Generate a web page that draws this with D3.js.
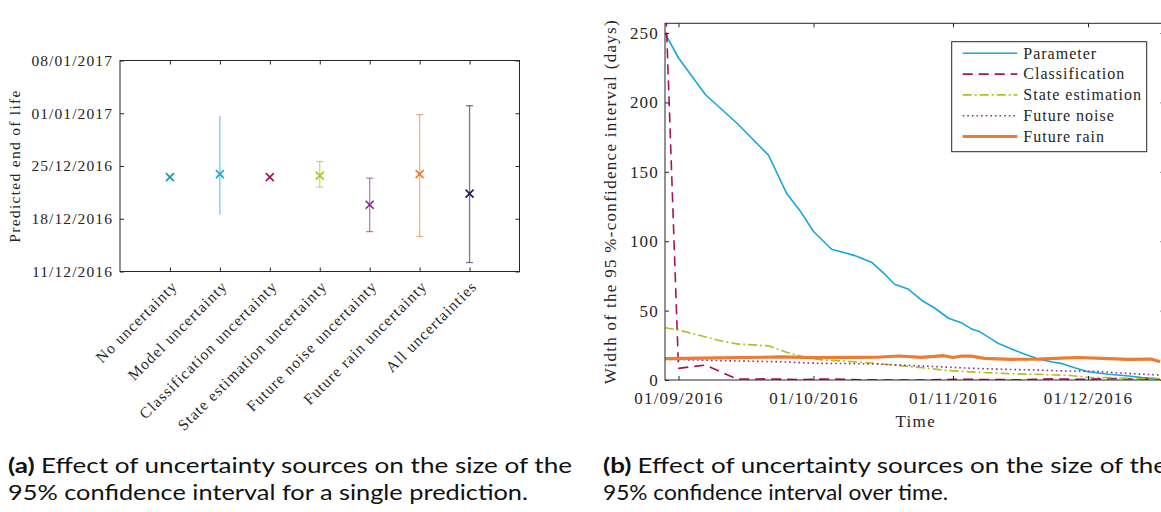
<!DOCTYPE html>
<html>
<head>
<meta charset="utf-8">
<script src="https://cdn.jsdelivr.net/npm/d3@7"></script>
<style>
  body { margin: 0; background: #fff; }
  svg { display: block; }
  .serif { font-family: "Liberation Serif", "Times New Roman", serif; fill: #262626; }
  .caption { font-family: "Lato", "Noto Sans", sans-serif; fill: #111; font-size: 21px; }
</style>
</head>
<body>
<svg id="fig" width="1161" height="512"></svg>
<script>
const parseDay = d3.utcParse("%Y-%m-%d");
const parseTime = d3.utcParse("%Y-%m-%d %H:%M");

// ---- Panel (a): predicted end of life per uncertainty source ----
const sourceLabels = [
  "No uncertainty", "Model uncertainty", "Classification uncertainty",
  "State estimation uncertainty", "Future noise uncertainty",
  "Future rain uncertainty", "All uncertainties"
];
const eolPredicted = [
  "2016-12-23 12:30", "2016-12-23 22:00", "2016-12-23 12:30", "2016-12-23 17:30",
  "2016-12-19 20:30", "2016-12-23 22:00", "2016-12-21 08:10"
];
const eolLower = [
  null, "2016-12-18 12:30", null, "2016-12-22 04:30",
  "2016-12-16 07:10", "2016-12-15 15:20", "2016-12-12 04:30"
];
const eolUpper = [
  null, "2016-12-31 15:30", null, "2016-12-25 14:10",
  "2016-12-23 09:20", "2016-12-31 19:40", "2017-01-02 00:00"
];
const eolTicks = ["2016-12-11", "2016-12-18", "2016-12-25", "2017-01-01", "2017-01-08"];

// ---- Panel (b): width of the 95 % confidence interval over time ----
const timeTicks = ["2016-09-01", "2016-10-01", "2016-11-01", "2016-12-01"];
const widthTicks = [0, 50, 100, 150, 200, 250];
const seriesNames = ["Parameter", "Classification", "State estimation", "Future noise", "Future rain"];

const parameterDates = [
  "2016-08-29", "2016-09-01", "2016-09-07", "2016-09-14", "2016-09-21", "2016-09-25",
  "2016-09-28", "2016-10-01", "2016-10-05", "2016-10-10", "2016-10-14", "2016-10-17",
  "2016-10-19", "2016-10-22", "2016-10-25", "2016-10-28", "2016-10-31", "2016-11-03",
  "2016-11-05", "2016-11-07", "2016-11-10", "2016-11-11", "2016-11-14", "2016-11-17",
  "2016-11-20", "2016-11-23", "2016-11-25", "2016-11-28", "2016-12-01", "2016-12-05",
  "2016-12-10", "2016-12-13", "2016-12-17"
];
const parameterWidth = [
  250, 232, 205.5, 185, 162, 134.6,
  122, 107, 94.2, 89.8, 84.6, 75.7,
  69, 65.6, 57.5, 51.7, 44.5, 41,
  37, 34.7, 28.5, 26.5, 22.3, 18.6,
  15.2, 13, 12, 8.9, 6, 4.3,
  2.9, 1.7, 0.9
];

const classificationDates = [
  "2016-08-29", "2016-09-01", "2016-09-07", "2016-09-14", "2016-09-21", "2016-09-28",
  "2016-10-05", "2016-10-12", "2016-10-19", "2016-10-26", "2016-11-02", "2016-11-09",
  "2016-11-16", "2016-11-23", "2016-11-30", "2016-12-07", "2016-12-14", "2016-12-17"
];
const classificationWidth = [
  285, 8.4, 10.8, 0.7, 0.8, 0.3,
  0.8, 0.1, 0, 0, 0.6, 0.3,
  0.2, 0.8, 0.5, 1, 0.6, 0.5
];

const stateDates = [
  "2016-08-29", "2016-09-01", "2016-09-10", "2016-09-14", "2016-09-21", "2016-09-25",
  "2016-09-29", "2016-10-03", "2016-10-10", "2016-10-14", "2016-10-18", "2016-10-24",
  "2016-10-31", "2016-11-07", "2016-11-14", "2016-11-21", "2016-11-27", "2016-12-01",
  "2016-12-06", "2016-12-12", "2016-12-17"
];
const stateWidth = [
  37.7, 36, 28.5, 26, 24.6, 20,
  16.3, 14.5, 13.2, 12.2, 11, 9.2,
  6.8, 5.5, 4.5, 4, 3.2, 1.9,
  1.7, 1, 0.8
];

const noiseDates = [
  "2016-08-29", "2016-09-05", "2016-09-14", "2016-09-23", "2016-10-02", "2016-10-10",
  "2016-10-15", "2016-10-20", "2016-10-27", "2016-11-04", "2016-11-11", "2016-11-19",
  "2016-11-26", "2016-12-02", "2016-12-06", "2016-12-12", "2016-12-17"
];
const noiseWidth = [
  14.9, 14.4, 13.7, 13.2, 12, 11.8,
  11.5, 10.8, 9.8, 8.6, 7.8, 7.2,
  6.5, 6.3, 5.5, 4.3, 3.6
];

const rainDates = [
  "2016-08-29", "2016-09-10", "2016-09-24", "2016-10-01", "2016-10-10", "2016-10-15",
  "2016-10-20", "2016-10-25", "2016-10-30", "2016-11-01", "2016-11-03", "2016-11-05",
  "2016-11-08", "2016-11-14", "2016-11-20", "2016-11-25", "2016-11-29", "2016-12-04",
  "2016-12-10", "2016-12-15", "2016-12-17"
];
const rainWidth = [
  15.4, 15.9, 16.6, 16.1, 16.3, 16.4,
  17.3, 16.3, 17.5, 16.2, 17.3, 17.2,
  15.6, 14.9, 15.1, 15.8, 16.2, 15.6,
  14.9, 15.1, 13.2
];

// ---- styling ----
const sourceColours = ["#1592b4", "#1aa8dc", "#a60f5c", "#a9c41e", "#86298c", "#ee7b2f", "#1c1c5a"];
const capHalfWidth = [0, 0, 0, 3.5, 3.5, 3.5, 3.5];
const seriesColours = ["#16a7db", "#a60f5c", "#a9c41e", "#8a2f8c", "#ee7b2f"];
const seriesStroke = [1.6, 1.6, 1.6, 1.6, 3.2];
const seriesDash = [null, "10,6", "9,3,2,3", "1.6,3", null];
const axisColour = "#262626";

const svg = d3.select("#fig");

function styleAxis(g, fontSize, spacing) {
  g.select(".domain").remove();
  g.selectAll(".tick line").attr("stroke", axisColour).attr("stroke-width", 1);
  g.selectAll("text")
    .attr("class", "serif")
    .attr("fill", axisColour)
    .style("font-size", fontSize + "px")
    .style("letter-spacing", spacing + "px");
}

// ================= Panel (a) =================
{
  const box = { left: 120, right: 519.5, top: 60.5, bottom: 271.5 };
  const x = d3.scaleLinear().domain([0, sourceLabels.length + 1]).range([box.left, box.right]);
  const y = d3.scaleUtc()
    .domain([parseDay(eolTicks[0]), parseDay(eolTicks[eolTicks.length - 1])])
    .range([box.bottom, box.top]);
  const catIdx = d3.range(1, sourceLabels.length + 1);
  const tickDates = eolTicks.map(parseDay);
  const fmt = d3.utcFormat("%d/%m/%Y");

  const g = svg.append("g");

  g.append("g").attr("transform", `translate(${box.left},0)`)
    .call(d3.axisLeft(y).tickValues(tickDates).tickFormat(fmt)
      .tickSizeInner(-4).tickSizeOuter(0).tickPadding(7))
    .call(a => styleAxis(a, 15.5, 1.1));

  g.append("g").attr("transform", `translate(${box.right},0)`)
    .call(d3.axisRight(y).tickValues(tickDates).tickFormat("")
      .tickSizeInner(-4).tickSizeOuter(0))
    .call(a => styleAxis(a, 15.5, 1.1));

  g.append("g").attr("transform", `translate(0,${box.top})`)
    .call(d3.axisTop(x).tickValues(catIdx).tickFormat("")
      .tickSizeInner(-4).tickSizeOuter(0))
    .call(a => styleAxis(a, 15.5, 1.1));

  const bottomAxis = g.append("g").attr("transform", `translate(0,${box.bottom})`)
    .call(d3.axisBottom(x).tickValues(catIdx).tickFormat(i => sourceLabels[i - 1])
      .tickSizeInner(-4).tickSizeOuter(0))
    .call(a => styleAxis(a, 15.5, 1.1));
  bottomAxis.selectAll("text")
    .attr("x", 0).attr("y", 0).attr("dy", "0.35em")
    .attr("text-anchor", "end")
    .attr("transform", "translate(4,12) rotate(-45)");

  g.append("rect")
    .attr("x", box.left).attr("y", box.top)
    .attr("width", box.right - box.left).attr("height", box.bottom - box.top)
    .attr("fill", "none").attr("stroke", axisColour).attr("stroke-width", 1);

  g.append("text").attr("class", "serif")
    .attr("transform", `translate(20,${(box.top + box.bottom) / 2}) rotate(-90)`)
    .attr("text-anchor", "middle")
    .style("font-size", "15.5px").style("letter-spacing", "1.3px")
    .text("Predicted end of life");

  const rows = sourceLabels.map((label, i) => ({
    i: i + 1,
    centre: parseTime(eolPredicted[i]),
    lower: eolLower[i] ? parseTime(eolLower[i]) : null,
    upper: eolUpper[i] ? parseTime(eolUpper[i]) : null,
    colour: sourceColours[i],
    cap: capHalfWidth[i]
  }));

  const bars = g.append("g").selectAll("g").data(rows.filter(r => r.lower)).join("g")
    .attr("stroke", r => r.colour).attr("stroke-opacity", 0.6).attr("stroke-width", 1.3);
  bars.append("line")
    .attr("x1", r => x(r.i)).attr("x2", r => x(r.i))
    .attr("y1", r => y(r.lower)).attr("y2", r => y(r.upper));
  bars.filter(r => r.cap > 0).append("line")
    .attr("x1", r => x(r.i) - r.cap).attr("x2", r => x(r.i) + r.cap)
    .attr("y1", r => y(r.lower)).attr("y2", r => y(r.lower));
  bars.filter(r => r.cap > 0).append("line")
    .attr("x1", r => x(r.i) - r.cap).attr("x2", r => x(r.i) + r.cap)
    .attr("y1", r => y(r.upper)).attr("y2", r => y(r.upper));

  const s = 4;
  g.append("g").selectAll("path").data(rows).join("path")
    .attr("d", r => {
      const cx = x(r.i), cy = y(r.centre);
      return `M${cx - s},${cy - s}L${cx + s},${cy + s}M${cx - s},${cy + s}L${cx + s},${cy - s}`;
    })
    .attr("stroke", r => r.colour).attr("stroke-width", 1.6).attr("fill", "none");
}

// ================= Panel (b) =================
{
  const box = { left: 665, right: 1164.5, top: 23.3, bottom: 380 };
  const x = d3.scaleUtc()
    .domain([parseDay("2016-08-29"), parseDay("2016-12-18")])
    .range([box.left, box.right]);
  const y = d3.scaleLinear().domain([0, 257]).range([box.bottom, box.top]);
  const tDates = timeTicks.map(parseDay);
  const fmt = d3.utcFormat("%d/%m/%Y");

  const g = svg.append("g");

  g.append("defs").append("clipPath").attr("id", "plotClip")
    .append("rect")
    .attr("x", box.left).attr("y", box.top)
    .attr("width", box.right - box.left).attr("height", box.bottom - box.top);

  const series = [
    { dates: parameterDates, values: parameterWidth },
    { dates: classificationDates, values: classificationWidth },
    { dates: stateDates, values: stateWidth },
    { dates: noiseDates, values: noiseWidth },
    { dates: rainDates, values: rainWidth }
  ].map((s, k) => ({
    name: seriesNames[k],
    points: s.dates.map((d, j) => ({ date: parseDay(d), value: s.values[j] })),
    colour: seriesColours[k],
    width: seriesStroke[k],
    dash: seriesDash[k]
  }));

  const line = d3.line().x(d => x(d.date)).y(d => y(d.value));

  g.append("g").attr("clip-path", "url(#plotClip)")
    .selectAll("path").data(series).join("path")
    .attr("d", s => line(s.points))
    .attr("fill", "none")
    .attr("stroke", s => s.colour)
    .attr("stroke-width", s => s.width)
    .attr("stroke-dasharray", s => s.dash)
    .attr("stroke-linejoin", "round");

  g.append("g").attr("transform", `translate(${box.left},0)`)
    .call(d3.axisLeft(y).tickValues(widthTicks).tickFormat(d3.format("d"))
      .tickSizeInner(-4).tickSizeOuter(0).tickPadding(6))
    .call(a => styleAxis(a, 17, 1.2));

  g.append("g").attr("transform", `translate(${box.right},0)`)
    .call(d3.axisRight(y).tickValues(widthTicks).tickFormat("")
      .tickSizeInner(-4).tickSizeOuter(0))
    .call(a => styleAxis(a, 17, 1.2));

  g.append("g").attr("transform", `translate(0,${box.bottom})`)
    .call(d3.axisBottom(x).tickValues(tDates).tickFormat(fmt)
      .tickSizeInner(-4).tickSizeOuter(0).tickPadding(12))
    .call(a => styleAxis(a, 17, 1.2));

  g.append("g").attr("transform", `translate(0,${box.top})`)
    .call(d3.axisTop(x).tickValues(tDates).tickFormat("")
      .tickSizeInner(-4).tickSizeOuter(0))
    .call(a => styleAxis(a, 17, 1.2));

  g.append("rect")
    .attr("x", box.left).attr("y", box.top)
    .attr("width", box.right - box.left).attr("height", box.bottom - box.top)
    .attr("fill", "none").attr("stroke", axisColour).attr("stroke-width", 1);

  g.append("text").attr("class", "serif")
    .attr("x", (box.left + box.right) / 2 + 1).attr("y", 427)
    .attr("text-anchor", "middle")
    .style("font-size", "17px").style("letter-spacing", "1.3px")
    .text("Time");

  g.append("text").attr("class", "serif")
    .attr("transform", `translate(616,${(box.top + box.bottom) / 2}) rotate(-90)`)
    .attr("text-anchor", "middle")
    .style("font-size", "17px").style("letter-spacing", "1.3px")
    .text("Width of the 95 %-confidence interval (days)");

  // legend
  const lg = g.append("g").attr("transform", "translate(951.7,41.7)");
  lg.append("rect").attr("width", 195).attr("height", 110)
    .attr("fill", "#fff").attr("stroke", axisColour).attr("stroke-width", 1);
  const item = lg.selectAll("g.item").data(series).join("g")
    .attr("class", "item")
    .attr("transform", (d, k) => `translate(0,${11.6 + k * 20.8})`);
  item.append("line")
    .attr("x1", 11).attr("x2", 65.6).attr("y1", 0).attr("y2", 0)
    .attr("stroke", d => d.colour)
    .attr("stroke-width", d => d.width)
    .attr("stroke-dasharray", d => d.dash);
  item.append("text").attr("class", "serif")
    .attr("x", 71.6).attr("dy", "0.33em")
    .style("font-size", "16px").style("letter-spacing", "1px")
    .text(d => d.name);
}

// ================= Captions =================
function caption(x, y, bold, rest, width) {
  const t = svg.append("text").attr("class", "caption").attr("x", x).attr("y", y);
  if (width) t.attr("textLength", width).attr("lengthAdjust", "spacingAndGlyphs");
  if (bold) t.append("tspan").attr("font-weight", "bold").text(bold + " ");
  t.append("tspan").text(rest);
}
caption(8, 473, "(a)", "Effect of uncertainty sources on the size of the", 564);
caption(8, 500, null, "95% confidence interval for a single prediction.", 520);
caption(603, 473, "(b)", "Effect of uncertainty sources on the size of the", 564);
caption(603, 500, null, "95% confidence interval over time.", 345);
</script>
</body>
</html>
